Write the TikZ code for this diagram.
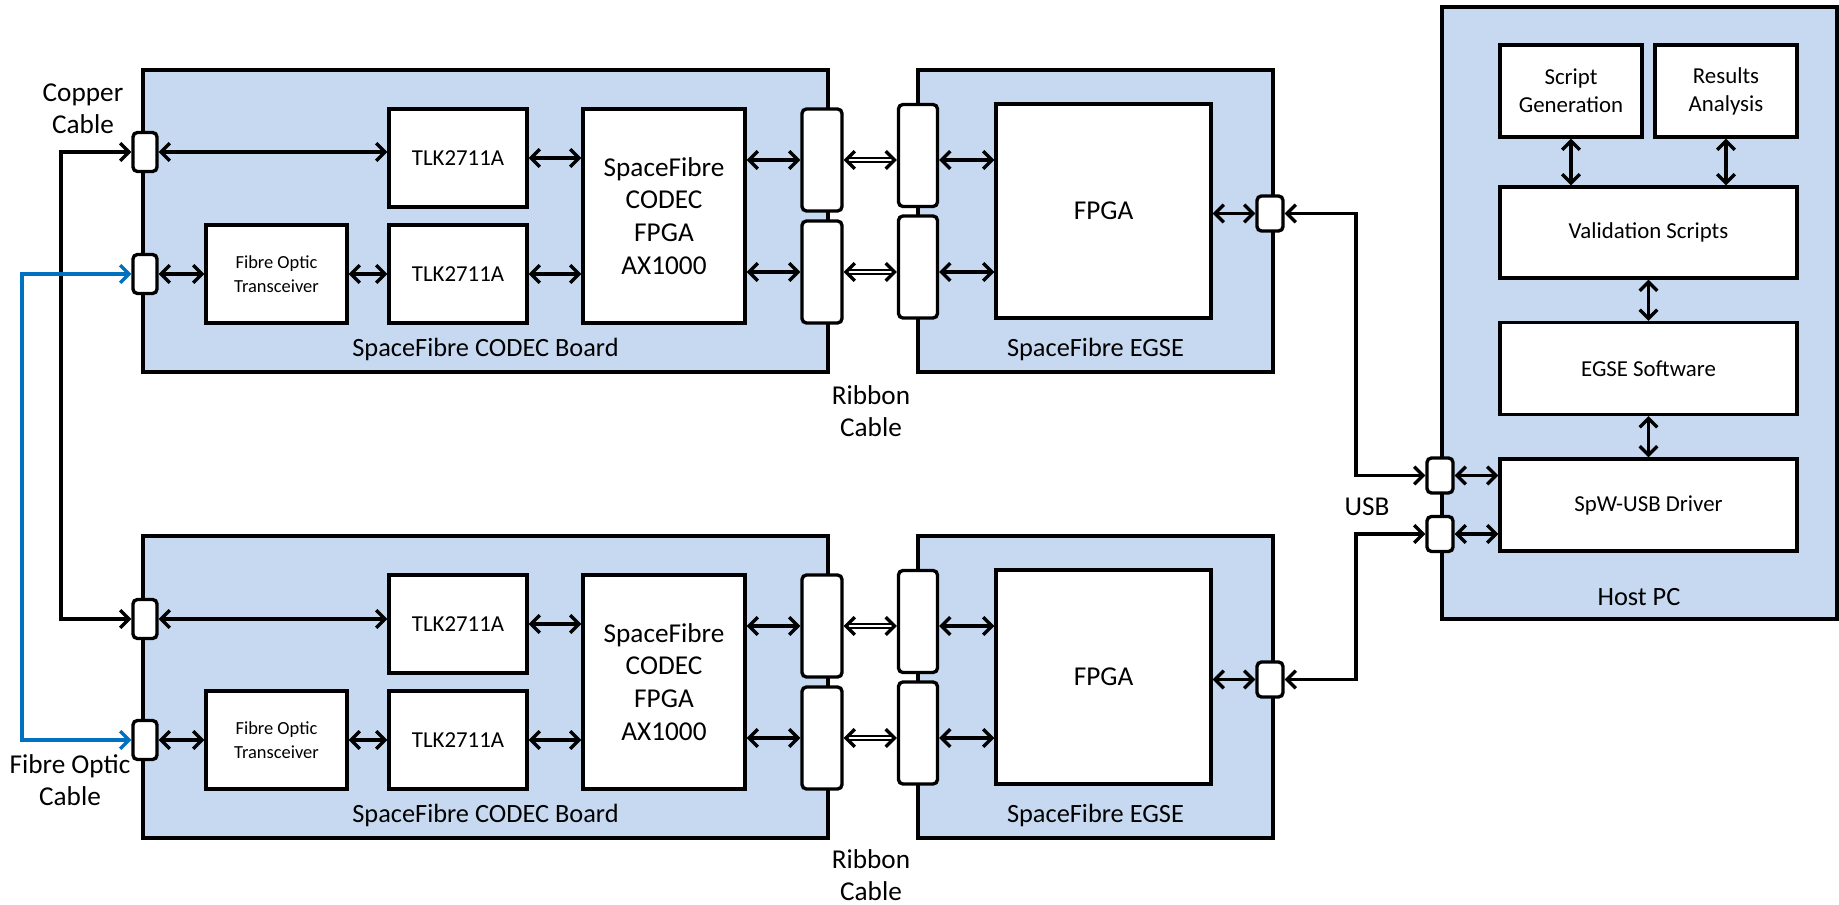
\documentclass[tikz,border=0pt]{standalone}
\usepackage{fontspec}
\setmainfont{Carlito}
\usepackage{xcolor}
\usetikzlibrary{arrows.meta}
\definecolor{SFBoard}{HTML}{C6D9F0}
\definecolor{SFFibre}{HTML}{0070C0}
\tikzset{
  board/.style={draw,fill=SFBoard,line width=1.9pt,inner sep=0pt},
  blk/.style={draw,fill=white,line width=1.9pt,inner sep=0pt,align=center,font=\fontsize{13}{16}\selectfont},
  conn/.style={draw,fill=white,line width=1.9pt,rounded corners=2.5pt,inner sep=0pt},
  lbl/.style={align=center,font=\fontsize{15.5}{18.5}\selectfont},
  link/.style={line width=1.9pt,{Straight Barb[length=5pt,width=10pt]}-{Straight Barb[length=5pt,width=10pt]}},
  ribbon/.style={double,double distance=1.3pt,line width=1pt,{Straight Barb[length=5pt,width=10pt,line width=1.9pt]}-{Straight Barb[length=5pt,width=10pt,line width=1.9pt]}},
  cable/.style={line width=1.9pt,{Straight Barb[length=5pt,width=10pt]}-{Straight Barb[length=5pt,width=10pt]}}
}
\begin{document}
\begin{tikzpicture}[x=0.02cm,y=-0.02cm]
\path[use as bounding box] (0,0) rectangle (1839,905);
% boards
\node[board,minimum width=13.70cm,minimum height=6.04cm] (cbA) at (485.5,221) {};
\node[board,minimum width=7.10cm,minimum height=6.04cm] (ebA) at (1095.5,221) {};
\node[board,minimum width=13.70cm,minimum height=6.04cm] (cbC) at (485.5,687) {};
\node[board,minimum width=7.10cm,minimum height=6.04cm] (ebC) at (1095.5,687) {};
\node[board,minimum width=7.90cm,minimum height=12.24cm] (host) at (1639.5,313) {};
\node[lbl,font=\fontsize{15}{18}\selectfont] (cbAlbl) at (485.5,349) {SpaceFibre CODEC Board};
\node[lbl,font=\fontsize{15}{18}\selectfont] (ebAlbl) at (1095.5,349) {SpaceFibre EGSE};
\node[lbl,font=\fontsize{15}{18}\selectfont] (cbClbl) at (485.5,815) {SpaceFibre CODEC Board};
\node[lbl,font=\fontsize{15}{18}\selectfont] (ebClbl) at (1095.5,815) {SpaceFibre EGSE};
\node[lbl,font=\fontsize{15}{18}\selectfont] (hostlbl) at (1639,597) {Host PC};
% upper board
\node[conn,minimum width=0.48cm,minimum height=0.78cm] (copA) at (145,152) {};
\node[conn,minimum width=0.48cm,minimum height=0.78cm] (fibA) at (145,274) {};
\node[blk,font=\fontsize{10.5}{14}\selectfont,minimum width=2.82cm,minimum height=1.96cm] (trxA) at (276.5,274) {Fibre Optic\\Transceiver};
\node[blk,minimum width=2.76cm,minimum height=1.96cm] (tlkA) at (458,158) {TLK2711A};
\node[blk,minimum width=2.76cm,minimum height=1.96cm] (tlkB) at (458,274) {TLK2711A};
\node[blk,font=\fontsize{15.5}{18.7}\selectfont,minimum width=3.24cm,minimum height=4.28cm] (cfpA) at (664,216) {SpaceFibre\\CODEC\\FPGA\\AX1000};
\node[conn,minimum width=0.80cm,minimum height=2.04cm] (ribA) at (822,160) {};
\node[conn,minimum width=0.80cm,minimum height=2.04cm] (ribB) at (822,272) {};
\node[conn,minimum width=0.78cm,minimum height=2.04cm] (erbA) at (918,155.5) {};
\node[conn,minimum width=0.78cm,minimum height=2.04cm] (erbB) at (918,267) {};
\node[blk,font=\fontsize{15.5}{18.7}\selectfont,minimum width=4.30cm,minimum height=4.28cm] (efpA) at (1103.5,211) {FPGA};
\node[conn,minimum width=0.52cm,minimum height=0.70cm] (usbA) at (1270,213.5) {};
% lower board
\node[conn,minimum width=0.48cm,minimum height=0.78cm] (copC) at (145,619) {};
\node[conn,minimum width=0.48cm,minimum height=0.78cm] (fibC) at (145,740) {};
\node[blk,font=\fontsize{10.5}{14}\selectfont,minimum width=2.82cm,minimum height=1.96cm] (trxC) at (276.5,740) {Fibre Optic\\Transceiver};
\node[blk,minimum width=2.76cm,minimum height=1.96cm] (tlkC) at (458,624) {TLK2711A};
\node[blk,minimum width=2.76cm,minimum height=1.96cm] (tlkD) at (458,740) {TLK2711A};
\node[blk,font=\fontsize{15.5}{18.7}\selectfont,minimum width=3.24cm,minimum height=4.28cm] (cfpC) at (664,682) {SpaceFibre\\CODEC\\FPGA\\AX1000};
\node[conn,minimum width=0.80cm,minimum height=2.04cm] (ribC) at (822,626) {};
\node[conn,minimum width=0.80cm,minimum height=2.04cm] (ribD) at (822,738) {};
\node[conn,minimum width=0.78cm,minimum height=2.04cm] (erbC) at (918,621.5) {};
\node[conn,minimum width=0.78cm,minimum height=2.04cm] (erbD) at (918,733) {};
\node[blk,font=\fontsize{15.5}{18.7}\selectfont,minimum width=4.30cm,minimum height=4.28cm] (efpC) at (1103.5,677) {FPGA};
\node[conn,minimum width=0.52cm,minimum height=0.70cm] (usbC) at (1270,679.5) {};
% host pc
\node[blk,minimum width=2.84cm,minimum height=1.84cm] (sgen) at (1571,91) {Script\\Generation};
\node[blk,minimum width=2.84cm,minimum height=1.84cm] (res) at (1726,91) {Results\\Analysis};
\node[blk,minimum width=5.94cm,minimum height=1.82cm] (val) at (1648.5,232.5) {Validation Scripts};
\node[blk,minimum width=5.94cm,minimum height=1.84cm] (esw) at (1648.5,368.5) {EGSE Software};
\node[blk,minimum width=5.94cm,minimum height=1.84cm] (drv) at (1648.5,505) {SpW-USB Driver};
\node[conn,minimum width=0.52cm,minimum height=0.70cm] (hubA) at (1440,475.5) {};
\node[conn,minimum width=0.52cm,minimum height=0.70cm] (hubB) at (1440,534) {};
% cable labels
\node[lbl] (cuLbl) at (83,109) {Copper\\Cable};
\node[lbl] (foLbl) at (70,780) {Fibre Optic\\Cable};
\node[lbl] (rcLblA) at (871,411) {Ribbon\\Cable};
\node[lbl] (rcLblC) at (871,875) {Ribbon\\Cable};
\node[lbl] (usbLbl) at (1367,507) {USB};
\coordinate (cuBend) at (61,0);
\coordinate (foBend) at (22,0);
\coordinate (usbBend) at (1356,0);
% links upper
\draw[link] (copA.east) -- (tlkA.west |- copA.east);
\draw[link] (fibA.east) -- (trxA.west);
\draw[link] (trxA.east) -- (tlkB.west);
\draw[link] (tlkA.east) -- (cfpA.west |- tlkA.east);
\draw[link] (tlkB.east) -- (cfpA.west |- tlkB.east);
\draw[link] (cfpA.east |- ribA.west) -- (ribA.west);
\draw[link] (cfpA.east |- ribB.west) -- (ribB.west);
\draw[ribbon] (ribA.east) -- (erbA.west |- ribA.east);
\draw[ribbon] (ribB.east) -- (erbB.west |- ribB.east);
\draw[link] (erbA.east |- ribA.east) -- (efpA.west |- ribA.east);
\draw[link] (erbB.east |- ribB.east) -- (efpA.west |- ribB.east);
\draw[link] (efpA.east |- usbA.west) -- (usbA.west);
% links lower
\draw[link] (copC.east) -- (tlkC.west |- copC.east);
\draw[link] (fibC.east) -- (trxC.west);
\draw[link] (trxC.east) -- (tlkD.west);
\draw[link] (tlkC.east) -- (cfpC.west |- tlkC.east);
\draw[link] (tlkD.east) -- (cfpC.west |- tlkD.east);
\draw[link] (cfpC.east |- ribC.west) -- (ribC.west);
\draw[link] (cfpC.east |- ribD.west) -- (ribD.west);
\draw[ribbon] (ribC.east) -- (erbC.west |- ribC.east);
\draw[ribbon] (ribD.east) -- (erbD.west |- ribD.east);
\draw[link] (erbC.east |- ribC.east) -- (efpC.west |- ribC.east);
\draw[link] (erbD.east |- ribD.east) -- (efpC.west |- ribD.east);
\draw[link] (efpC.east |- usbC.west) -- (usbC.west);
% host links
\draw[link] (sgen.south) -- (val.north -| sgen.south);
\draw[link] (res.south) -- (val.north -| res.south);
\draw[link] (val.south) -- (esw.north);
\draw[link] (esw.south) -- (drv.north);
\draw[link] (hubA.east) -- (drv.west |- hubA.east);
\draw[link] (hubB.east) -- (drv.west |- hubB.east);
% cables
\draw[cable] (copA.west) -- (copA.west -| cuBend) |- (copC.west);
\draw[cable,SFFibre] (fibA.west) -- (fibA.west -| foBend) |- (fibC.west);
\draw[cable] (usbA.east) -- (usbA.east -| usbBend) |- (hubA.west);
\draw[cable] (usbC.east) -- (usbC.east -| usbBend) |- (hubB.west);
\end{tikzpicture}
\end{document}
